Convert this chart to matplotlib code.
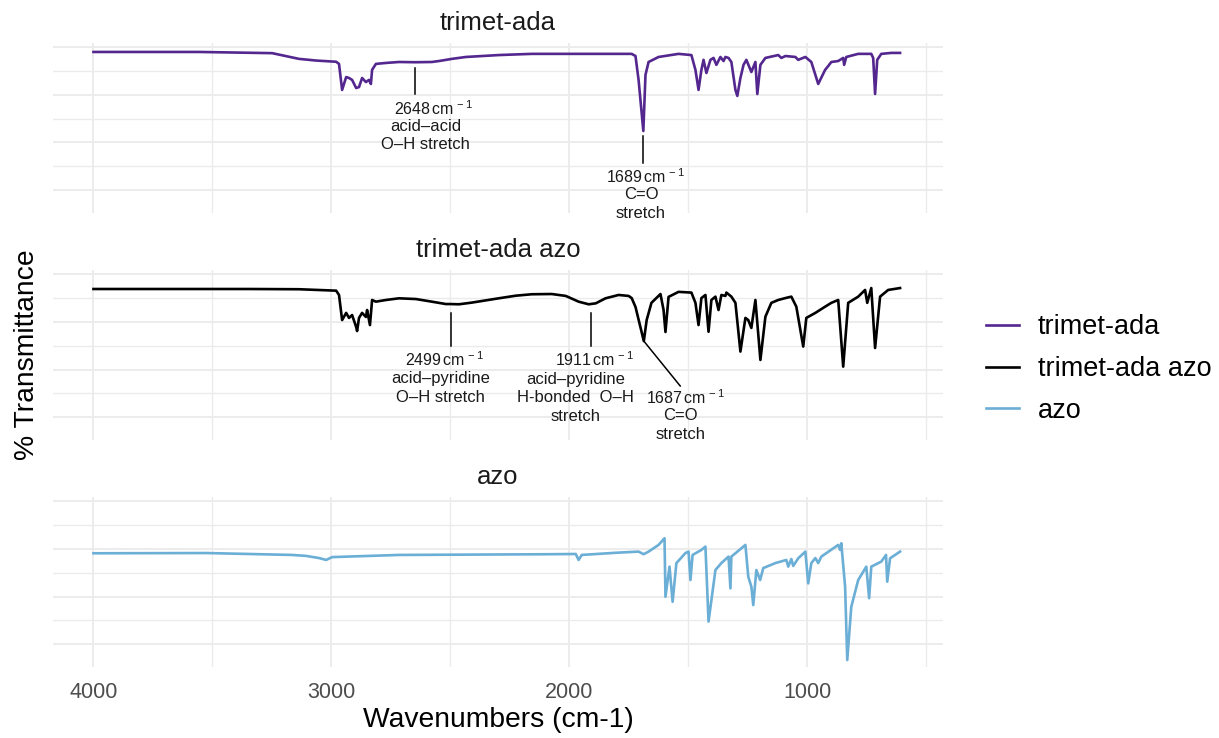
import matplotlib
matplotlib.use('Agg')
import matplotlib.pyplot as plt

plt.rcParams['font.family'] = ['Liberation Sans', 'DejaVu Sans']
plt.rcParams['mathtext.fontset'] = 'custom'
plt.rcParams['mathtext.rm'] = 'Liberation Sans'
plt.rcParams['mathtext.it'] = 'Liberation Sans:italic'

# --- spectra (wavenumber in cm-1, % transmittance) ---
samples = ['trimet-ada', 'trimet-ada azo', 'azo']
colours = ['#54278F', '#000000', '#6BAED6']

ada_wn = [4000, 3555, 3249, 3136, 3064, 2980, 2968, 2955, 2938, 2926, 2913, 2896,
          2884, 2871, 2855, 2842, 2834, 2829, 2813, 2771, 2716, 2648, 2578, 2548,
          2494, 2435, 2297, 2158, 1877, 1738, 1722, 1709, 1689, 1680, 1667, 1625,
          1541, 1487, 1470, 1457, 1445, 1436, 1424, 1407, 1394, 1382, 1365, 1352,
          1344, 1331, 1319, 1302, 1294, 1281, 1268, 1256, 1235, 1218, 1210, 1197,
          1176, 1122, 1109, 1092, 1050, 1038, 1008, 983, 954, 925, 912, 899, 870,
          849, 845, 836, 786, 731, 723, 715, 706, 689, 647, 610]
ada_t = [97.9, 97.9, 97.4, 95.0, 94.3, 93.8, 92.9, 82.0, 87.4, 87.0, 86.2, 82.8,
         83.2, 87.0, 85.3, 86.2, 84.5, 90.4, 92.9, 93.3, 93.7, 93.6, 93.7, 94.1,
         95.0, 95.8, 96.6, 97.1, 97.1, 97.1, 96.2, 86.2, 64.8, 88.3, 93.7, 95.8,
         97.1, 96.6, 90.4, 82.0, 90.4, 94.6, 89.1, 94.6, 95.4, 92.5, 95.8, 94.1,
         95.8, 95.4, 93.7, 82.0, 79.5, 87.0, 92.5, 94.6, 89.5, 93.7, 80.3, 92.5,
         95.4, 96.6, 95.4, 96.2, 95.8, 94.6, 95.8, 93.7, 84.5, 90.4, 92.0, 93.7, 94.1,
         95.4, 92.5, 95.8, 97.1, 97.1, 95.4, 80.3, 94.6, 97.1, 97.5, 97.5]

ada_azo_wn = [4000, 3345, 3136, 2980, 2968, 2955, 2938, 2926, 2913, 2896, 2892,
              2884, 2871, 2855, 2850, 2838, 2829, 2813, 2771, 2716, 2645, 2578,
              2519, 2499, 2464, 2410, 2297, 2225, 2158, 2074, 2015, 1961, 1919,
              1911, 1889, 1848, 1793, 1751, 1738, 1722, 1687, 1675, 1655, 1617,
              1604, 1596, 1583, 1541, 1487, 1470, 1457, 1445, 1428, 1415, 1403,
              1386, 1373, 1361, 1344, 1340, 1319, 1302, 1281, 1260, 1248, 1235,
              1218, 1197, 1176, 1151, 1122, 1092, 1067, 1046, 1017, 1004, 966, 925,
              899, 870, 849, 828, 786, 757, 748, 731, 715, 694, 660, 610]
ada_azo_t = [93.7, 93.7, 93.6, 93.0, 91.2, 80.7, 83.7, 81.6, 82.8, 77.8, 76.1,
             81.6, 83.7, 82.0, 84.9, 78.6, 89.1, 88.4, 89.1, 89.8, 89.5, 88.4,
             87.4, 87.4, 87.3, 88.0, 89.8, 90.9, 91.5, 91.6, 90.8, 88.4, 87.3,
             87.4, 87.7, 89.8, 91.2, 90.8, 89.9, 86.2, 71.9, 80.7, 87.9, 91.6,
             84.9, 75.7, 90.4, 92.5, 92.2, 87.9, 78.6, 89.9, 91.2, 75.8, 89.1,
             90.5, 84.9, 91.2, 90.8, 92.2, 90.5, 87.9, 67.5, 81.6, 80.7, 77.4,
             89.1, 64.0, 82.1, 87.9, 89.1, 89.9, 90.5, 86.3, 69.6, 81.6, 83.7, 86.3,
             87.9, 89.1, 61.2, 87.9, 90.5, 93.3, 87.9, 94.1, 69.0, 90.5, 93.3, 94.1]

azo_wn = [4000, 3526, 3165, 3106, 3052, 3022, 2997, 2716, 2087, 1973, 1961, 1948,
          1806, 1709, 1688, 1667, 1625, 1600, 1596, 1579, 1566, 1550, 1512, 1499,
          1491, 1482, 1445, 1428, 1415, 1386, 1361, 1331, 1323, 1319, 1260, 1248,
          1235, 1227, 1214, 1198, 1185, 1134, 1088, 1080, 1067, 1059, 1038, 1008,
          996, 983, 966, 954, 941, 870, 862, 857, 841, 832, 815, 786, 752, 740,
          731, 689, 669, 664, 652, 610]
azo_t = [78.1, 78.2, 77.4, 77.0, 76.1, 75.3, 76.5, 77.4, 77.7, 77.8, 75.3, 77.4,
         78.3, 78.8, 77.7, 78.8, 81.6, 84.4, 59.9, 72.5, 57.8, 74.0, 78.2, 78.8,
         66.9, 77.4, 79.5, 80.9, 49.5, 71.1, 74.0, 76.7, 63.4, 76.7, 81.6, 68.3,
         64.1, 56.4, 71.1, 66.9, 71.9, 74.0, 75.3, 72.5, 75.7, 72.8, 76.0, 78.8,
         65.5, 74.0, 76.1, 74.0, 76.7, 81.6, 79.5, 82.3, 64.1, 33.4, 55.7, 66.9,
         72.5, 59.3, 72.5, 74.6, 77.4, 66.2, 76.0, 78.8]

spectra = [(ada_wn, ada_t), (ada_azo_wn, ada_azo_t), (azo_wn, azo_t)]

# --- peak annotations ---
peak_panel = [0, 0, 1, 1, 1]
peak_wn = [2648, 1689, 2499, 1911, 1687]
peak_notes = ['acid–acid\nO–H stretch',
              'C=O\nstretch',
              'acid–pyridine\nO–H stretch',
              'acid–pyridine\nH-bonded  O–H\nstretch',
              'C=O\nstretch']

# segment ends (x1, y0, y1) and text anchors (number x, y; note x, y)
seg_ends = [(2648, 91.2, 80.3), (1689, 62.7, 51.4), (2499, 83.7, 69.8),
            (1911, 83.7, 69.8), (1534, 71.9, 53.1)]
num_pos = [(2573, 74.0), (1680, 45.6), (2527, 64.0), (1895, 64.0), (1512, 48.1)]
note_pos = [(2603, 62.9), (1699, 34.3), (2540, 52.3), (1973, 48.2), (1531, 36.8)]

fig = plt.figure(figsize=(12.19, 7.38), dpi=100)

left, width, height = 0.0435, 0.730, 0.2304
bottoms = [0.7114, 0.4038, 0.0962]

grid_c = '#EBEBEB'
axes = []
lines = []
for i, name in enumerate(samples):
    ax = fig.add_axes([left, bottoms[i], width, height])
    wn, t = spectra[i]
    ln, = ax.plot(wn, t, color=colours[i], lw=1.9, label=name, solid_joinstyle='round')
    lines.append(ln)
    ax.set_xlim(4170, 430)
    ax.set_ylim(30.49, 101.67)
    ax.set_xticks([4000, 3000, 2000, 1000])
    ax.set_xticks([3500, 2500, 1500, 500], minor=True)
    ax.set_yticks([40, 60, 80, 100])
    ax.set_yticks([50, 70, 90], minor=True)
    ax.grid(which='major', color=grid_c, lw=1.3)
    ax.grid(which='minor', color=grid_c, lw=1.0)
    ax.set_axisbelow(True)
    ax.tick_params(which='both', length=0)
    ax.set_yticklabels([])
    for s in ax.spines.values():
        s.set_visible(False)
    if i < 2:
        ax.set_xticklabels([])
    else:
        ax.tick_params(axis='x', labelsize=15.5, labelcolor='#4D4D4D', pad=11)
        ax.set_xlabel('Wavenumbers (cm-1)', fontsize=20.3, labelpad=3)
    ax.set_title(name, fontsize=18.5, color='#1A1A1A', pad=9)
    axes.append(ax)

for k in range(len(peak_wn)):
    ax = axes[peak_panel[k]]
    x1, y0, y1 = seg_ends[k]
    ax.plot([peak_wn[k], x1], [y0, y1], color='black', lw=1.1, clip_on=False)
    nx, ny = num_pos[k]
    ax.text(nx, ny, f'{peak_wn[k]}$\\,$cm$^{{\\,-1}}$', fontsize=11.5, ha='center',
            va='center', color='#1A1A1A', clip_on=False)
    tx, ty = note_pos[k]
    ax.text(tx, ty, peak_notes[k], fontsize=12, ha='center', va='center',
            color='#1A1A1A', linespacing=1.3, clip_on=False)

fig.text(0.022, 0.519, '% Transmittance', rotation=90, fontsize=20.3,
         ha='center', va='center')

fig.legend(handles=lines, loc='center left', bbox_to_anchor=(0.789, 0.5),
           frameon=False, fontsize=19.5, handlelength=1.2, handletextpad=0.7,
           labelspacing=0.58)

fig.savefig('out.png', dpi=100)
